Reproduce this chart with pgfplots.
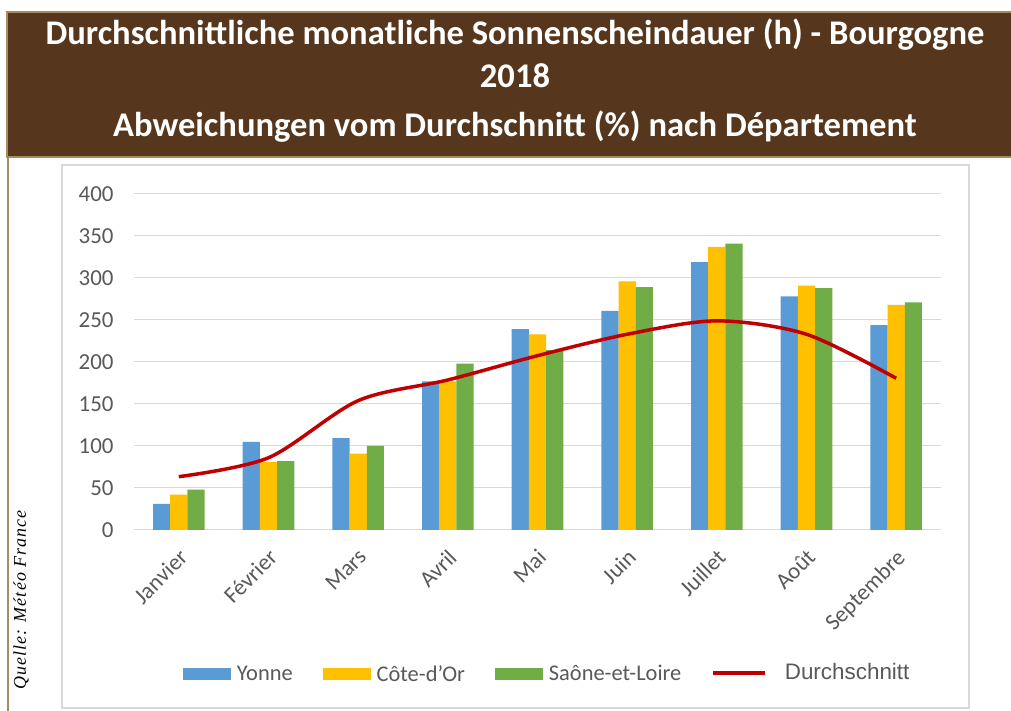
\documentclass[border=0pt]{standalone}
\usepackage{fontspec}
\setmainfont{Carlito}
\newfontfamily\arialfont{Liberation Sans}
\newfontfamily\quellefont[LetterSpace=6]{Liberation Serif}
\usepackage{pgfplots}
\pgfplotsset{compat=1.18}
\definecolor{hdrbrown}{HTML}{56371D}
\definecolor{hdrtan}{HTML}{A88B5E}
\definecolor{gridgray}{HTML}{D9D9D9}
\definecolor{tickgray}{HTML}{595959}
\definecolor{cblue}{HTML}{5B9BD5}
\definecolor{cyellow}{HTML}{FFC000}
\definecolor{cgreen}{HTML}{70AD47}
\definecolor{cred}{HTML}{C00000}
\pgfplotsset{
  barleg/.style={legend image code/.code={\fill[##1] (0bp,-6bp) rectangle (48bp,6bp);}},
  lineleg/.style={legend image code/.code={\draw[##1] (0bp,1bp) -- (52bp,1bp);}},
}
\begin{document}
\begin{tikzpicture}[x=1bp,y=1bp]
\fill[white] (0,0) rectangle (1011,711);
% header
\fill[hdrbrown] (7,554) rectangle (1015,699);
\draw[hdrtan, line width=2bp] (1015,699) -- (7,699) -- (7,554) -- (1015,554);
\draw[hdrtan, line width=2bp] (8,554) -- (8,-5);
\node[anchor=base, text=white, font=\bfseries\fontsize{34.7}{38}\selectfont, inner sep=0] at (515,666) {Durchschnittliche monatliche Sonnenscheindauer (h) - Bourgogne};
\node[anchor=base, text=white, font=\bfseries\fontsize{34.7}{38}\selectfont, inner sep=0] at (515,623) {2018};
\node[anchor=base, text=white, font=\bfseries\fontsize{34.7}{38}\selectfont, inner sep=0] at (515,574) {Abweichungen vom Durchschnitt (\%) nach Département};
% chart box
\draw[gridgray, line width=1.5bp] (62,3) rectangle (969,546);
\node[rotate=90, font=\quellefont\itshape\fontsize{18}{20}\selectfont, inner sep=0] at (21,111) {Quelle: Météo France};
\coordinate (axpos) at (134,181);
\begin{axis}[
  at={(axpos)}, anchor=south west,
  scale only axis, width=807bp, height=336bp,
  xmin=-0.5, xmax=8.5, ymin=0, ymax=400,
  enlargelimits=false,
  ybar=0pt, bar width=17.2bp,
  axis line style={draw=none},
  major tick length=0pt,
  ytick={0,50,...,400},
  ymajorgrids, grid style={gridgray, line width=1bp},
  xtick={0,...,8},
  xticklabels={Janvier,Février,Mars,Avril,Mai,Juin,Juillet,Août,Septembre},
  /pgf/number format/assume math mode=true,
  ticklabel style={font=\fontsize{23}{26}\selectfont, text=tickgray},
  xticklabel style={xshift=-1bp, yshift=-15bp, rotate=45, anchor=north east, inner sep=2bp},
  yticklabel style={xshift=-17bp},
  legend columns=4,
  legend style={draw=none, fill=none, at={(0.512,-0.4286)}, anchor=center,
    font=\fontsize{22.5}{26}\selectfont, text=tickgray,
    /tikz/every odd column/.append style={column sep=4bp},
    /tikz/every even column/.append style={column sep=28bp}},
]
\addplot[fill=cblue, draw=none, barleg] coordinates {(0,31) (1,105) (2,109.5) (3,177) (4,239) (5,261) (6,319) (7,278) (8,244)};
\addlegendentry{Yonne}
\addplot[fill=cyellow, draw=none, barleg] coordinates {(0,42) (1,81) (2,91) (3,177) (4,233) (5,296) (6,337) (7,291) (8,268)};
\addlegendentry{Côte-d'Or}
\addplot[fill=cgreen, draw=none, barleg] coordinates {(0,48) (1,82) (2,100) (3,198) (4,214) (5,289) (6,341) (7,288) (8,271)};
\addlegendentry{Saône-et-Loire}
\addplot[smooth, draw=cred, line width=3.5bp, lineleg] coordinates {(0,63.5) (1,86) (2,154) (3,178.6) (4,207.5) (5,233) (6,249) (7,233) (8,180.6)};
\addlegendentry{\hspace{12bp}\raisebox{4bp}{\arialfont Durchschnitt}}
\end{axis}
\pgfresetboundingbox
\useasboundingbox (0,0) rectangle (1011,711);
\end{tikzpicture}
\end{document}
